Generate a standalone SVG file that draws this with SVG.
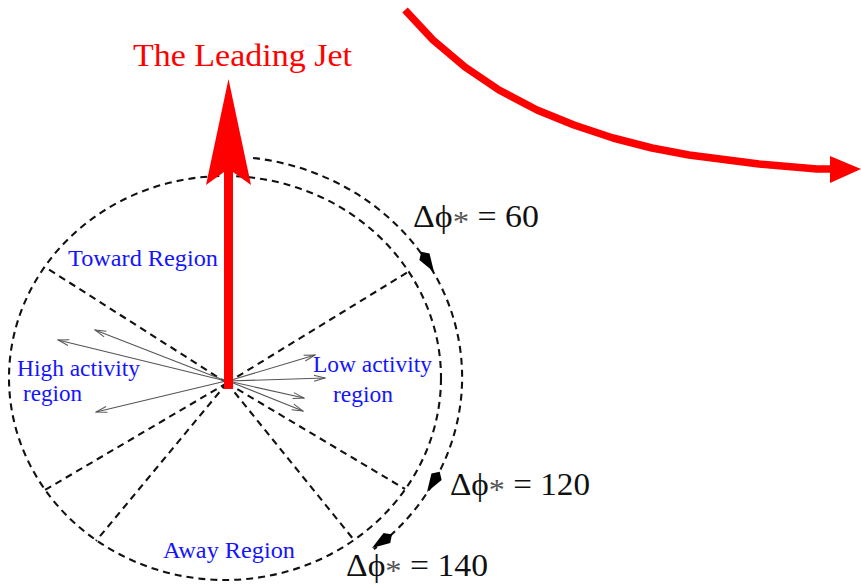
<svg xmlns="http://www.w3.org/2000/svg" xmlns:xlink="http://www.w3.org/1999/xlink" width="861" height="585" viewBox="0 0 861 585">
<style>
.dash{fill:none;stroke:#111;stroke-width:2.1;stroke-dasharray:7 5}
.thin{fill:none;stroke:#555;stroke-width:1.1}
.blue{font-family:"Liberation Serif","Times New Roman",serif;font-size:23px;fill:#1414ff}
.math{font-family:"Liberation Serif","DejaVu Serif",serif;font-size:31px;fill:#111}
.ast{font-size:30px;fill:#555}
.title{font-family:"Liberation Serif","Times New Roman",serif;font-size:32px;fill:#ff0000}
.red{fill:#ff0000}
</style>
<defs>
<marker id="open" markerWidth="13" markerHeight="8" refX="12" refY="4" orient="auto" markerUnits="userSpaceOnUse">
<path d="M1,1 L12,4 L1,7" fill="none" stroke="#555" stroke-width="1"/>
</marker>
<path id="dart" d="M0,0 L-18,-6 L-24,0 L-18,6 Z" fill="#000"/>
</defs>

<g id="region-boundary">
<ellipse class="dash" cx="225" cy="378" rx="216" ry="202"/>
</g>

<g id="connectors">
<g id="region-dividers">
<line class="dash" x1="227" y1="383" x2="45" y2="267"/>
<line class="dash" x1="227" y1="383" x2="408" y2="272"/>
<line class="dash" x1="227" y1="383" x2="45" y2="490"/>
<line class="dash" x1="227" y1="383" x2="405" y2="489"/>
<line class="dash" x1="227" y1="383" x2="96" y2="541"/>
<line class="dash" x1="227" y1="383" x2="354" y2="540"/>
</g>
<g id="particles">
<line class="thin" x1="226" y1="381" x2="95" y2="330" marker-end="url(#open)"/>
<line class="thin" x1="226" y1="381" x2="58" y2="340" marker-end="url(#open)"/>
<line class="thin" x1="226" y1="381" x2="96" y2="412" marker-end="url(#open)"/>
<line class="thin" x1="228" y1="381" x2="315" y2="355" marker-end="url(#open)"/>
<line class="thin" x1="228" y1="381" x2="325" y2="378" marker-end="url(#open)"/>
<line class="thin" x1="228" y1="381" x2="304" y2="398" marker-end="url(#open)"/>
<line class="thin" x1="228" y1="381" x2="303" y2="411" marker-end="url(#open)"/>
</g>
<g id="phi-arc">
<path class="dash" d="M253,158 A238,221 0 0 1 373.8,549.2"/>
<use xlink:href="#dart" transform="translate(434,272) rotate(58)"/>
<use xlink:href="#dart" transform="translate(427,492) rotate(122)"/>
<use xlink:href="#dart" transform="translate(372,548) rotate(146)"/>
</g>
<g id="leading-jet">
<rect class="red" x="224" y="170" width="9" height="219"/>
<polygon class="red" points="228.5,79 251,185 233,172 224,172 206,185"/>
</g>
<g id="curved-arrow">
<polyline points="405,10 433,40 465,67 499,90 537,110 574,125 613,138 652,148 689,155 759,164 817,169 834,169" fill="none" stroke="#ff0000" stroke-width="7.5" stroke-linejoin="round"/>
<polygon class="red" points="830,156 861,169 830,183"/>
</g>
</g>

<g id="title">
<text class="title" x="133" y="66" textLength="219" lengthAdjust="spacingAndGlyphs">The Leading Jet</text>
</g>
<g id="toward-region">
<text class="blue" x="68" y="266" textLength="150" lengthAdjust="spacingAndGlyphs">Toward Region</text>
</g>
<g id="high-activity-region">
<text class="blue" x="17" y="376" textLength="123" lengthAdjust="spacingAndGlyphs">High activity</text>
<text class="blue" x="23" y="401" textLength="59" lengthAdjust="spacingAndGlyphs">region</text>
</g>
<g id="low-activity-region">
<text class="blue" x="313" y="372" textLength="119" lengthAdjust="spacingAndGlyphs">Low activity</text>
<text class="blue" x="333" y="402" textLength="60" lengthAdjust="spacingAndGlyphs">region</text>
</g>
<g id="away-region">
<text class="blue" x="163" y="558" textLength="132" lengthAdjust="spacingAndGlyphs">Away Region</text>
</g>
<g id="label-60">
<text class="math" x="413" y="227" textLength="126" lengthAdjust="spacingAndGlyphs">Δϕ<tspan class="ast" dy="4">*</tspan><tspan dy="-4"> = 60</tspan></text>
</g>
<g id="label-120">
<text class="math" x="450" y="495" textLength="140" lengthAdjust="spacingAndGlyphs">Δϕ<tspan class="ast" dy="4">*</tspan><tspan dy="-4"> = 120</tspan></text>
</g>
<g id="label-140">
<text class="math" x="346" y="576" textLength="142" lengthAdjust="spacingAndGlyphs">Δϕ<tspan class="ast" dy="4">*</tspan><tspan dy="-4"> = 140</tspan></text>
</g>
</svg>
